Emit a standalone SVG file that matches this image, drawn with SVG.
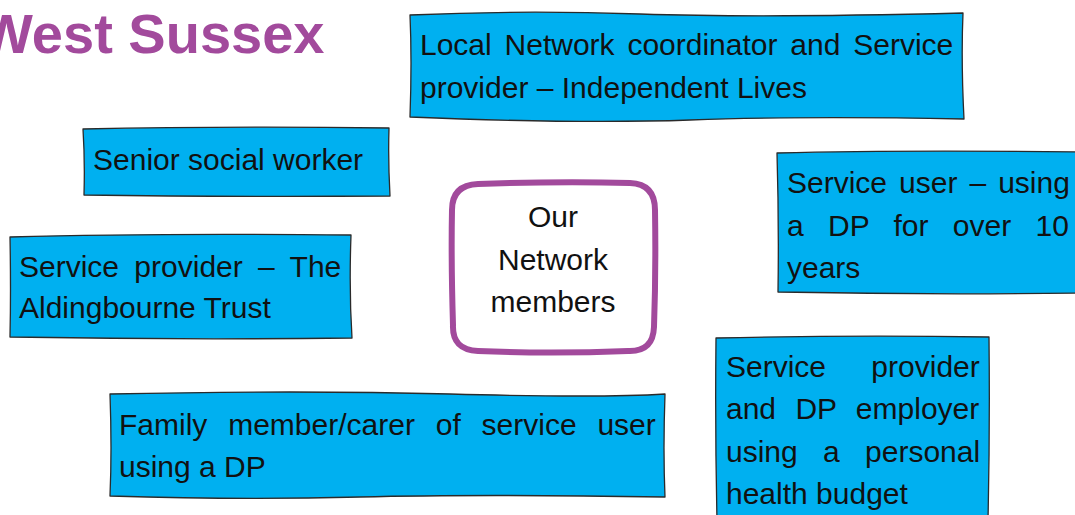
<svg xmlns="http://www.w3.org/2000/svg" width="1075" height="515" viewBox="0 0 1075 515">
<style>
.box{fill:#00B0F0;stroke:#2a2a2a;stroke-width:1.3;stroke-linejoin:round}
.t{font-family:"Liberation Sans",Arial,sans-serif;font-size:30px;fill:#111}
.title{font-family:"Liberation Sans",Arial,sans-serif;font-size:56px;font-weight:bold;fill:#A24A9C}
.hub{fill:#fff;stroke:#A24A9C;stroke-width:6}
</style>
<rect width="1075" height="515" fill="#fff"/>
<text class="title" x="-20" y="53">West Sussex</text>
<g id="connectors"></g>
<g id="n-coordinator">
<path class="box" d="M410,15 Q520,10 640,14 T963,13 Q961,60 964,119 Q800,116 690,120 T410,117 Q412,60 410,15 Z"/>
<text class="t" x="420" y="55" word-spacing="4.5">Local Network coordinator and Service</text>
<text class="t" x="420" y="98">provider – Independent Lives</text>
</g>
<g id="n-social">
<path class="box" d="M83,129 Q230,126 389,128 Q388,160 390,196 Q230,197 84,195 Q85,160 83,129 Z"/>
<text class="t" x="93" y="170">Senior social worker</text>
</g>
<g id="n-aldingbourne">
<path class="box" d="M10,237 Q150,233 351,235 Q349,290 352,338 Q180,340 10,337 Q11,290 10,237 Z"/>
<text class="t" x="19" y="277" word-spacing="7">Service provider – The</text>
<text class="t" x="19" y="318">Aldingbourne Trust</text>
</g>
<g id="n-hub">
<path class="hub" d="M478,184 Q560,181 630,183 Q655,184 655,210 Q656,270 654,327 Q653,352 628,351 Q550,354 478,351 Q452,350 453,325 Q451,260 452,210 Q452,185 478,184 Z"/>
<text class="t" x="553" y="227" text-anchor="middle">Our</text>
<text class="t" x="553" y="270" text-anchor="middle">Network</text>
<text class="t" x="553" y="312" text-anchor="middle">members</text>
</g>
<g id="n-user">
<path class="box" d="M777,153 Q900,150 1080,152 L1080,293 Q930,295 778,292 Q779,220 777,153 Z"/>
<text class="t" x="787" y="193" word-spacing="3.7">Service user – using</text>
<text class="t" x="787" y="236" word-spacing="16">a DP for over 10</text>
<text class="t" x="787" y="278">years</text>
</g>
<g id="n-employer">
<path class="box" d="M716,338 Q850,335 989,337 Q990,430 988,520 L717,520 Q715,430 716,338 Z"/>
<text class="t" x="726" y="377" word-spacing="37">Service provider</text>
<text class="t" x="726" y="419" word-spacing="11">and DP employer</text>
<text class="t" x="726" y="462" word-spacing="17">using a personal</text>
<text class="t" x="726" y="504">health budget</text>
</g>
<g id="n-family">
<path class="box" d="M110,394 Q300,390 450,394 T665,394 Q663,450 665,497 Q480,494 360,497 T110,496 Q112,450 110,394 Z"/>
<text class="t" x="119" y="435" word-spacing="12.5">Family member/carer of service user</text>
<text class="t" x="119" y="477">using a DP</text>
</g>
</svg>
